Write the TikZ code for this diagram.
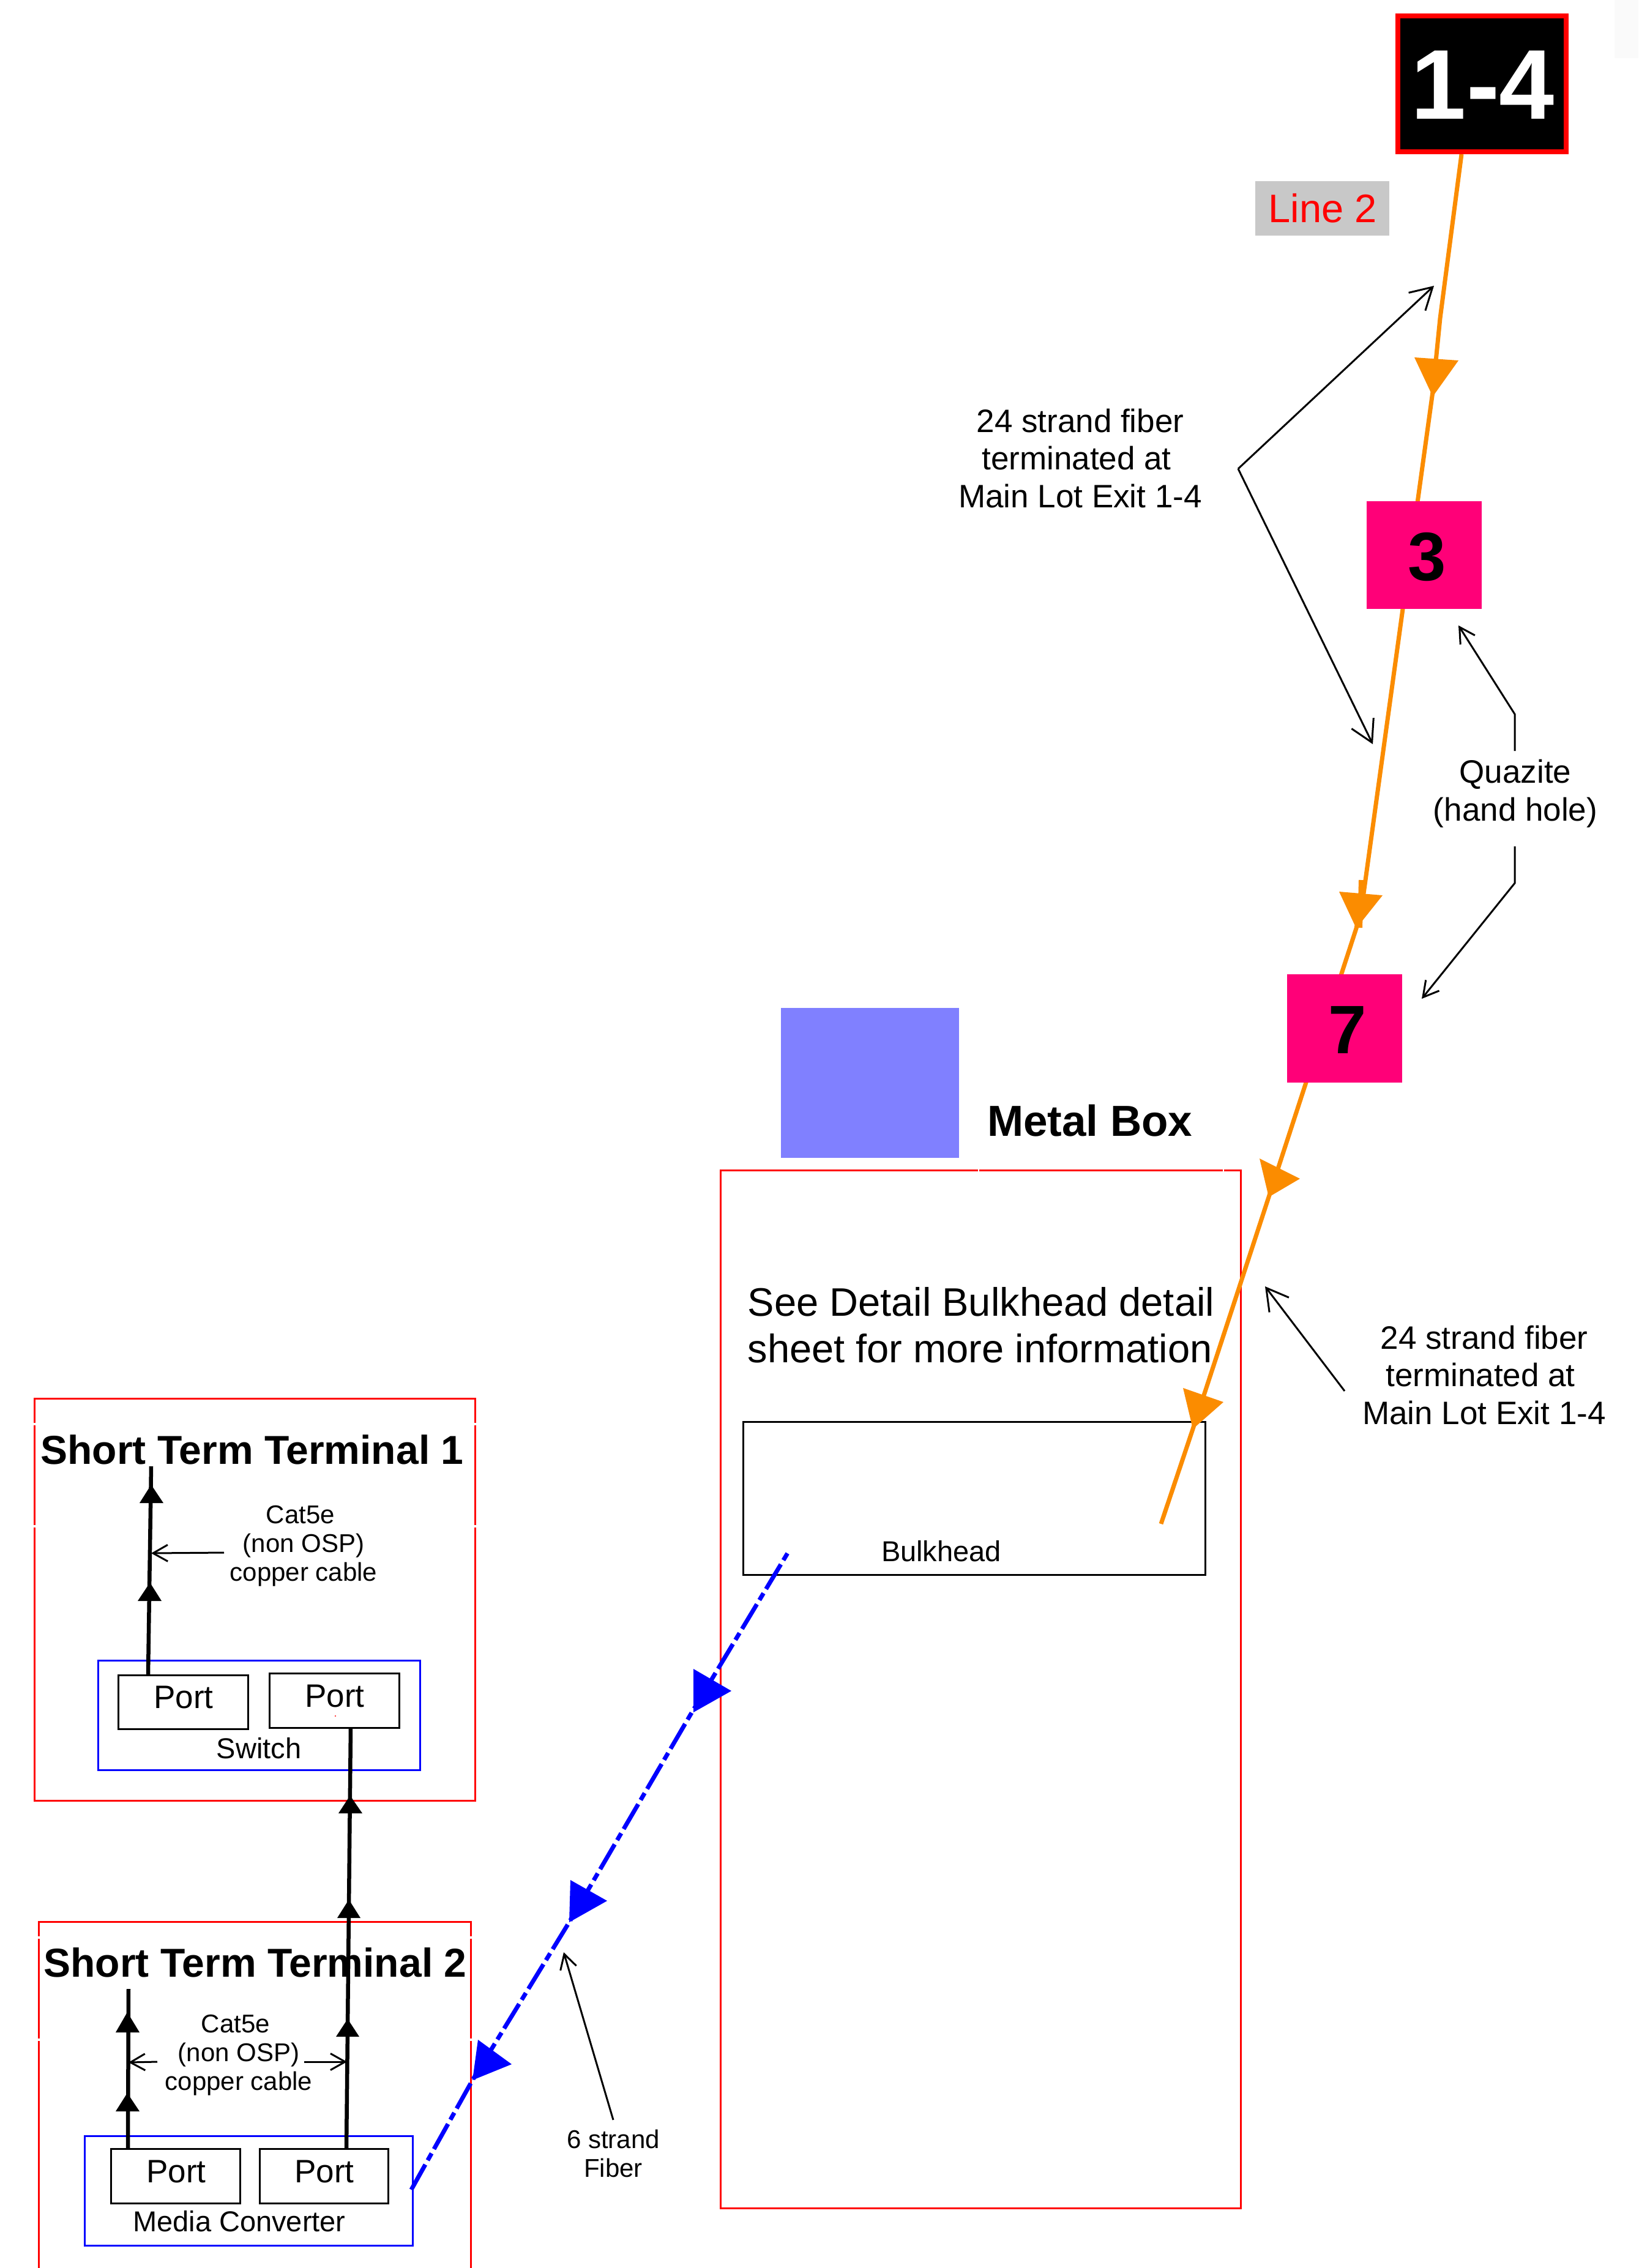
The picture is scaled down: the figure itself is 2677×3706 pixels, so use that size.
\documentclass[tikz,border=0pt]{standalone}
\usepackage{fontspec}
\setmainfont{Liberation Sans}
\usetikzlibrary{arrows.meta}
\definecolor{fiberorange}{HTML}{FB8C00}
\definecolor{holepink}{HTML}{FF0078}
\definecolor{labelgray}{HTML}{C8C8C8}
\definecolor{boxblue}{HTML}{8080FF}
\newcommand{\fs}[2]{\fontsize{#1}{#2}\selectfont}
\tikzset{
  x=1pt,y=-1pt,
  every node/.style={inner sep=0pt,outer sep=0pt},
  redbox/.style={draw=red,line width=3pt},
  blackbox/.style={draw=black,line width=3pt},
  blackboxthin/.style={draw=black,line width=3pt},
  blueframe/.style={draw=blue,line width=3pt},
  hole/.style={fill=holepink},
  fiber/.style={draw=fiberorange,line width=7pt},
  fibertip/.style={fill=fiberorange},
  bluefiber/.style={draw=blue,line width=7pt,dash pattern=on 47pt off 8pt on 13pt off 8pt},
  bluetip/.style={fill=blue},
  copper/.style={draw=black,line width=6.5pt},
  coppertip/.style={fill=black},
  bigbarb/.style={draw=black,line width=3pt,-{Straight Barb[length=35pt,width=40pt]}},
  midbarb/.style={draw=black,line width=3pt,-{Straight Barb[length=25pt,width=28pt]}},
  smallbarb/.style={draw=black,line width=3pt,-{Straight Barb[length=24pt,width=27pt]}},
  gap/.style={draw=white,line width=4pt},
  big/.style={font=\fs{53}{61.5},align=center},
  cat/.style={font=\fs{42}{47},align=center},
  port/.style={font=\fs{53}{53},anchor=base},
  caption/.style={font=\fs{47}{47},anchor=base},
  title/.style={font=\fs{66}{66}\bfseries,anchor=base},
}
\begin{document}
\begin{tikzpicture}
\useasboundingbox (0,0) rectangle (2677,3706);
\fill[white] (0,0) rectangle (2677,3706);
\fill[black!2] (2638,0) rectangle (2677,95);

% containers
\node[redbox,minimum width=850pt,minimum height=1696pt] (metal) at (1602,2760) {};
\node[fill=boxblue,minimum width=291pt,minimum height=245pt] (bluebox) at (1421.5,1769.5) {};
\node[blackboxthin,minimum width=755pt,minimum height=250pt] (bulk) at (1591.5,2448) {};
\draw[gap] (1598,1912) -- (1600,1912) (1998,1912) -- (2000,1912);

\node[redbox,minimum width=720pt,minimum height=657pt] (t1) at (416,2613.5) {};
\draw[gap] (56,2325) -- (56,2329) (56,2492) -- (56,2496) (776,2325) -- (776,2329) (776,2492) -- (776,2496);
\draw[redbox] (63,3706) -- (63,3140) -- (769,3140) -- (769,3706);
\draw[gap] (63,3164) -- (63,3168) (63,3331) -- (63,3335) (769,3164) -- (769,3168) (769,3331) -- (769,3335);

\node[blueframe,minimum width=526pt,minimum height=179pt] (switch) at (423,2802.5) {};
\node[blackbox,minimum width=212pt,minimum height=88pt] (pa) at (299,2781) {};
\node[blackbox,minimum width=212pt,minimum height=89pt] (pb) at (546,2778.5) {};
\node[blueframe,minimum width=536pt,minimum height=179pt] (media) at (406,3579.5) {};
\node[blackbox,minimum width=211pt,minimum height=89pt] (pc) at (286.5,3555.5) {};
\node[blackbox,minimum width=210pt,minimum height=89pt] (pd) at (529,3555.5) {};
\fill[red] (548,2804) circle (1.2pt);

% orange fibre
\coordinate (o1) at (2388,252);
\coordinate (o2) at (2353,520);
\coordinate (o3) at (2341,640);
\coordinate (o4) at (2292,995);
\coordinate (o5) at (2228,1460);
\coordinate (o6) at (2216,1517);
\coordinate (o7) at (2073,1956);
\coordinate (o8) at (1949,2335);
\coordinate (o9) at (1897,2490);
\draw[fiber,line join=round] (o1) -- (o2) -- (o3) -- (o4) -- (o5) -- (o6) -- (o7) -- (o8) -- (o9);
\draw[fiber,line width=8pt] (2224,1438) -- (2222,1516);
\fill[fibertip] (2311,584) -- (2383,589) -- (2341,648) -- cycle;
\fill[fibertip] (2188,1457) -- (2259,1463) -- (2216,1517) -- cycle;
\fill[fibertip] (2058,1893) -- (2124,1926) -- (2073,1956) -- cycle;
\fill[fibertip] (1933,2268) -- (1999,2291) -- (1949,2335) -- cycle;

% pink hand holes and top box
\node[hole,minimum width=188pt,minimum height=176pt] (h3) at (2327,907) {};
\node[font=\fs{112}{112}\bfseries] (h3t) at (2332,910) {3};
\node[hole,minimum width=188pt,minimum height=177pt] (h7) at (2197,1680.5) {};
\node[font=\fs{112}{112}\bfseries] (h7t) at (2202,1683) {7};
\node[fill=black,draw=red,line width=8pt,minimum width=275pt,minimum height=222pt] (top) at (2421.5,137) {};
\node[text=white,font=\fs{162}{162}\bfseries] (topt) at (2423,139) {1-4};
\node[fill=labelgray,minimum width=219pt,minimum height=89pt] (line2) at (2160.5,340.5) {};
\node[text=red,font=\fs{65}{65},anchor=base] (line2t) at (2161,363) {Line 2};

% blue fibre
\coordinate (b1) at (1288,2536);
\coordinate (b2) at (1131,2797);
\coordinate (b3) at (930,3141);
\coordinate (b4) at (772,3399);
\coordinate (b5) at (672,3578);
\draw[bluefiber] (b5) -- (b4) -- (b3) -- (b2) -- (b1);
\fill[bluetip] (1133,2727) -- (1195,2763) -- (1133,2798) -- cycle;
\fill[bluetip] (932,3072) -- (992,3106) -- (930,3141) -- cycle;
\fill[bluetip] (781,3333) -- (836,3373) -- (772,3399) -- cycle;

% copper cables
\coordinate (c1a) at (242,2737);
\coordinate (c1b) at (247,2396);
\draw[copper] (c1a) -- (c1b);
\fill[coppertip] (225,2616) -- (264,2616) -- (245,2586) -- cycle;
\fill[coppertip] (228,2456) -- (267,2456) -- (247,2426) -- cycle;
\coordinate (c2a) at (566,3511);
\coordinate (c2b) at (573,2823);
\draw[copper] (c2a) -- (c2b);
\fill[coppertip] (553,2963) -- (592,2963) -- (572,2934) -- cycle;
\fill[coppertip] (551,3134) -- (589,3134) -- (570,3104) -- cycle;
\fill[coppertip] (549,3328) -- (587,3328) -- (568,3299) -- cycle;
\coordinate (c3a) at (209,3511);
\coordinate (c3b) at (210,3250);
\draw[copper] (c3a) -- (c3b);
\fill[coppertip] (189,3450) -- (228,3450) -- (208,3420) -- cycle;
\fill[coppertip] (189,3321) -- (228,3321) -- (208,3288) -- cycle;

% labels
\node[big] (lab24a) at (1765,749) {24 strand fiber\\terminated at\hspace*{12pt}\mbox{}\\Main Lot Exit 1-4};
\node[big] (labq) at (2476,1297) {Quazite\\(hand hole)};
\node[big] (lab24b) at (2425,2247) {24 strand fiber\\terminated at\hspace*{12pt}\mbox{}\\Main Lot Exit 1-4};
\node[font=\fs{71}{71}\bfseries,anchor=base west] (mbt) at (1613,1856) {Metal Box};
\node[font=\fs{65}{76},align=left] (see) at (1603,2165) {See Detail Bulkhead detail\\sheet for more information};
\node[caption] (bulkt) at (1538,2551) {Bulkhead};
\node[title] (t1t) at (412,2392) {Short Term Terminal 1};
\node[title] (t2t) at (417,3230) {Short Term Terminal 2};
\node[port] (pat) at (300,2791) {Port};
\node[port] (pbt) at (547,2789) {Port};
\node[port] (pct) at (288,3566) {Port};
\node[port] (pdt) at (530,3566) {Port};
\node[caption] (swt) at (423,2873) {Switch};
\node[caption] (mct) at (391,3646) {Media Converter};
\node[cat] (cat1) at (496,2526) {Cat5e\hspace*{10pt}\mbox{}\\(non OSP)\\copper cable};
\node[cat] (cat2) at (390,3358) {Cat5e\hspace*{10pt}\mbox{}\\(non OSP)\\copper cable};
\node[cat] (strand) at (1002,3519) {6 strand\\Fiber};

% leader arrows
\coordinate (k) at (2023,766);
\coordinate (ka) at (2343,467);
\coordinate (kb) at (2243,1216);
\draw[bigbarb] (k) -- (ka);
\draw[bigbarb] (k) -- (kb);
\coordinate (q1) at (2475,1227);
\coordinate (q2) at (2475,1167);
\coordinate (q3) at (2383,1022);
\draw[midbarb] (q1) -- (q2) -- (q3);
\coordinate (q4) at (2475,1383);
\coordinate (q5) at (2475,1443);
\coordinate (q6) at (2323,1632);
\draw[midbarb] (q4) -- (q5) -- (q6);
\coordinate (l1) at (2197,2273);
\coordinate (l2) at (2067,2102);
\draw[bigbarb] (l1) -- (l2);
\coordinate (t1s) at (366,2537);
\coordinate (t1e) at (247,2538);
\draw[smallbarb] (t1s) -- (t1e);
\coordinate (t2s) at (257,3369);
\coordinate (t2e) at (210,3370);
\draw[smallbarb] (t2s) -- (t2e);
\coordinate (t3s) at (497,3369);
\coordinate (t3e) at (567,3369);
\draw[smallbarb] (t3s) -- (t3e);
\coordinate (f1) at (1002,3464);
\coordinate (f2) at (921,3190);
\draw[smallbarb] (f1) -- (f2);
\end{tikzpicture}
\end{document}
